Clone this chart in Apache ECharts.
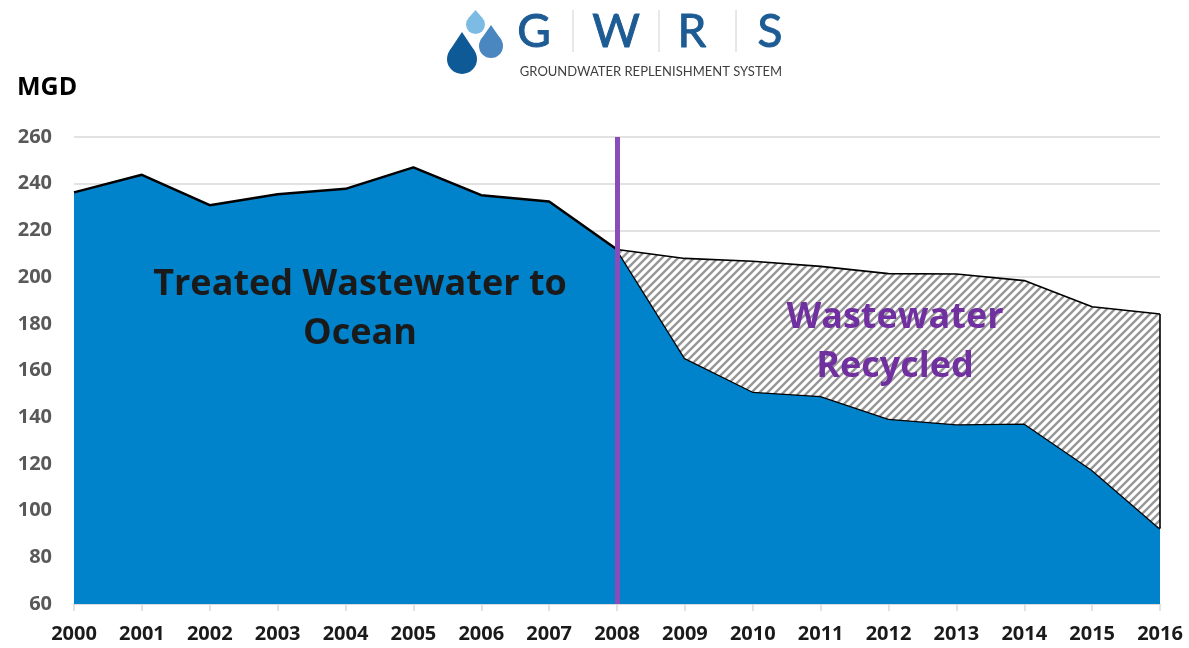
<!DOCTYPE html>
<html>
<head>
<meta charset="utf-8">
<script src="https://cdn.jsdelivr.net/npm/echarts@6/dist/echarts.min.js"></script>
<style>
  html, body { margin: 0; padding: 0; background: #fff; }
  #main { width: 1189px; height: 648px; }
</style>
</head>
<body>
<div id="main"></div>
<script>
// years on x axis
var years = ['2000', '2001', '2002', '2003', '2004', '2005', '2006', '2007', '2008',
  '2009', '2010', '2011', '2012', '2013', '2014', '2015', '2016'];
// treated wastewater to ocean (MGD)
var ocean = [236.3, 243.8, 230.8, 235.5, 237.8, 247.0, 235.1, 232.4, 211.8,
  165.3, 150.9, 149.1, 139.3, 137.0, 137.3, 117.4, 92.3];
// wastewater recycled (MGD), stacked on ocean
var recycled = ['-', '-', '-', '-', '-', '-', '-', '-', 0,
  42.7, 55.9, 55.5, 62.2, 64.3, 61.2, 69.9, 91.9];
// y axis ticks
var yMin = 60, yMax = 260, yStep = 20;

//斜线填充
function makeHatch() {
  var c = document.createElement('canvas');
  c.width = 8;
  c.height = 8;
  var ctx = c.getContext('2d');
  ctx.fillStyle = '#ffffff';
  ctx.fillRect(0, 0, 8, 8);
  ctx.strokeStyle = '#979797';
  ctx.lineWidth = 2.4;
  ctx.beginPath();
  ctx.moveTo(-2, 10); ctx.lineTo(10, -2);
  ctx.moveTo(-2, 2); ctx.lineTo(2, -2);
  ctx.moveTo(6, 10); ctx.lineTo(10, 6);
  ctx.stroke();
  return c;
}

//水滴 (circle + tangent triangle)
function drop(cx, cy, r, d, color) {
  var py = -r * r / d;
  var px = Math.sqrt(r * r - py * py);
  return {
    type: 'group',
    children: [
      { type: 'circle', shape: { cx: cx, cy: cy, r: r }, style: { fill: color } },
      { type: 'polygon', shape: { points: [[cx, cy - d], [cx + px, cy + py], [cx - px, cy + py]] }, style: { fill: color } }
    ]
  };
}

function logoLetter(ch, x) {
  return { type: 'text', style: { text: ch, x: x, y: 32, fill: '#1d5b94', font: '46px Lato',
    textAlign: 'center', textVerticalAlign: 'middle', stroke: '#1d5b94', lineWidth: 1 } };
}

function sep(x) {
  return { type: 'line', shape: { x1: x, y1: 10, x2: x, y2: 52 }, style: { stroke: '#d0d0d0', lineWidth: 1 } };
}

var last = years.length - 1;

var myChart = echarts.init(document.getElementById('main'), null, { renderer: 'canvas' });
var option = {
  animation: false,
  backgroundColor: '#ffffff',
  grid: { left: 74, right: 29, top: 137, bottom: 44 },
  xAxis: {
    type: 'category',
    data: years,
    boundaryGap: false,
    axisLine: { lineStyle: { color: '#d9d9d9', width: 1.5 } },
    axisTick: { show: true, length: 7, lineStyle: { color: '#d9d9d9', width: 1.5 } },
    axisLabel: {
      color: '#1a1a1a', fontFamily: 'Open Sans', fontWeight: 'bold', fontSize: 20, margin: 20
    }
  },
  yAxis: {
    type: 'value',
    min: yMin,
    max: yMax,
    interval: yStep,
    axisLine: { show: false },
    axisTick: { show: false },
    splitLine: { lineStyle: { color: '#d9d9d9', width: 1.5 } },
    axisLabel: {
      color: '#595959', fontFamily: 'Open Sans', fontWeight: 'bold', fontSize: 20, margin: 22
    }
  },
  series: [{
    name: 'Treated Wastewater to Ocean',
    type: 'line',
    stack: 'flow',
    data: ocean,
    symbol: 'none',
    lineStyle: { color: '#000000', width: 2.5 },
    areaStyle: { color: '#0083cb', opacity: 1 },
    z: 2
  }, {
    name: 'Wastewater Recycled',
    type: 'line',
    stack: 'flow',
    data: recycled,
    symbol: 'none',
    lineStyle: { color: '#000000', width: 1.6 },
    areaStyle: { color: { image: makeHatch(), repeat: 'repeat' }, opacity: 1 },
    z: 3,
    markLine: {
      silent: true,
      symbol: ['none', 'none'],
      label: { show: false },
      data: [
        [{ coord: [years[last], ocean[last]], lineStyle: { color: '#000000', width: 1.6, type: 'solid' } },
         { coord: [years[last], ocean[last] + recycled[last]] }],
        { xAxis: '2008', lineStyle: { color: '#8a4cb8', width: 5, type: 'solid' } }
      ]
    }
  }],
  graphic: [
    { type: 'text', style: { text: 'MGD', x: 17, y: 88, fill: '#000', font: 'bold 25px "Open Sans"', textVerticalAlign: 'middle' } },
    { type: 'text', z: 10, style: {
      text: 'Treated Wastewater to\nOcean', x: 360, y: 309, fill: '#1a1a1a',
      font: 'bold 36px "Open Sans"', textAlign: 'center', textVerticalAlign: 'middle', lineHeight: 49 } },
    { type: 'text', z: 10, style: {
      text: 'Wastewater\nRecycled', x: 895, y: 342, fill: '#7030a0',
      font: 'bold 36px "Open Sans"', textAlign: 'center', textVerticalAlign: 'middle', lineHeight: 49 } },
    drop(475.5, 24.5, 9.5, 14.5, '#7cbbe3'),
    drop(491, 46, 12, 21, '#4a86bf'),
    drop(462, 59, 15, 27, '#0d5a97'),
    logoLetter('G', 534),
    logoLetter('W', 616),
    logoLetter('R', 692),
    logoLetter('S', 770),
    sep(573), sep(659), sep(736),
    { type: 'text', style: { text: 'GROUNDWATER REPLENISHMENT SYSTEM', x: 651, y: 72, fill: '#3f3f3f',
      font: '13px Lato', textAlign: 'center', textVerticalAlign: 'middle' } }
  ]
};
myChart.setOption(option);
</script>
</body>
</html>
